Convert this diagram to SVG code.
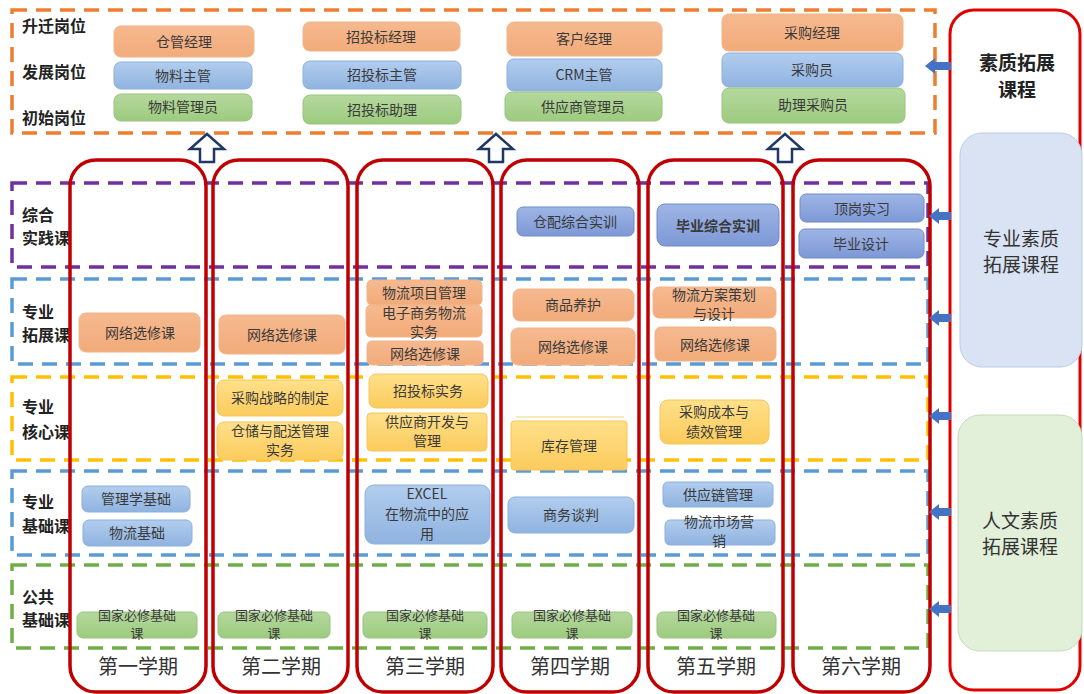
<svg xmlns="http://www.w3.org/2000/svg" width="1084" height="694" viewBox="0 0 1084 694">
<defs>
<linearGradient id="gOr" x1="0" y1="0" x2="0" y2="1"><stop offset="0" stop-color="#f6b98f"/><stop offset="1" stop-color="#f2ab7a"/></linearGradient>
<linearGradient id="gBl" x1="0" y1="0" x2="0" y2="1"><stop offset="0" stop-color="#b2cdee"/><stop offset="1" stop-color="#8fb3e0"/></linearGradient>
<linearGradient id="gGr" x1="0" y1="0" x2="0" y2="1"><stop offset="0" stop-color="#b5d89e"/><stop offset="1" stop-color="#9ccb7e"/></linearGradient>
<linearGradient id="gPu" x1="0" y1="0" x2="0" y2="1"><stop offset="0" stop-color="#9fb5e6"/><stop offset="1" stop-color="#7d98d6"/></linearGradient>
<linearGradient id="gYe" x1="0" y1="0" x2="0" y2="1"><stop offset="0" stop-color="#ffe08a"/><stop offset="1" stop-color="#fbcb5c"/></linearGradient>
</defs>
<style>
text{font-family:"Noto Sans CJK SC","Noto Sans",sans-serif;text-anchor:middle;fill:#3a3a3a;font-size:14px}
.lab{font-weight:bold;text-anchor:start;fill:#222;font-size:16px}
.sem{font-size:20px;fill:#333}
.ttl{font-size:19px;font-weight:bold;fill:#222}
.big{font-size:19px;fill:#333}
.sm{font-size:13px}
.bd{font-weight:bold}
.or{fill:url(#gOr);stroke:#f0b48a;stroke-width:1}
.bl{fill:url(#gBl);stroke:#8cb0dc;stroke-width:1}
.gr{fill:url(#gGr);stroke:#98c47d;stroke-width:1}
.pu{fill:url(#gPu);stroke:#6f8cc9;stroke-width:1}
.ye{fill:url(#gYe);stroke:#f5c65a;stroke-width:1}
.col{fill:none;stroke:#c00000;stroke-width:3.5}
.band{fill:none;stroke-width:3.5;stroke-dasharray:15 9}
.up{fill:#fff;stroke:#1f3864;stroke-width:2.5;stroke-linejoin:miter}
.la{fill:#4472c4}
</style>

<!-- bands -->
<g id="bands">
<rect x="12" y="10" width="923" height="123" class="band" stroke="#ed7d31"/>
<rect x="12" y="183" width="916" height="84" class="band" stroke="#7030a0"/>
<rect x="12" y="279" width="916" height="85" class="band" stroke="#5b9bd5"/>
<rect x="12" y="377" width="916" height="83" class="band" stroke="#ffc000"/>
<rect x="12" y="471" width="916" height="84" class="band" stroke="#5b9bd5"/>
<rect x="12" y="565" width="916" height="83" class="band" stroke="#70ad47"/>
</g>

<!-- row labels -->
<g id="labels">
<text class="lab" x="22" y="32">升迁岗位</text>
<text class="lab" x="22" y="78">发展岗位</text>
<text class="lab" x="22" y="124">初始岗位</text>
<text class="lab" x="22" y="221">综合</text>
<text class="lab" x="22" y="244">实践课</text>
<text class="lab" x="22" y="318">专业</text>
<text class="lab" x="22" y="341">拓展课</text>
<text class="lab" x="22" y="413">专业</text>
<text class="lab" x="22" y="438">核心课</text>
<text class="lab" x="22" y="508">专业</text>
<text class="lab" x="22" y="532">基础课</text>
<text class="lab" x="22" y="603">公共</text>
<text class="lab" x="22" y="626">基础课</text>
</g>

<!-- semester columns -->
<g id="semesters">
<rect x="70" y="160" width="136" height="532" rx="26" class="col"/>
<rect x="213" y="160" width="135" height="532" rx="26" class="col"/>
<rect x="357" y="160" width="136" height="532" rx="26" class="col"/>
<rect x="501" y="160" width="138" height="532" rx="26" class="col"/>
<rect x="648" y="160" width="135" height="532" rx="26" class="col"/>
<rect x="793" y="160" width="137" height="532" rx="26" class="col"/>
<text class="sem" x="138" y="674">第一学期</text>
<text class="sem" x="281" y="674">第二学期</text>
<text class="sem" x="425" y="674">第三学期</text>
<text class="sem" x="570" y="674">第四学期</text>
<text class="sem" x="716" y="674">第五学期</text>
<text class="sem" x="861" y="674">第六学期</text>
</g>

<!-- job boxes -->
<g id="jobs">
<rect x="114" y="26" width="140" height="31" rx="7" class="or"/><text x="184" y="47">仓管经理</text>
<rect x="114" y="62" width="138" height="27" rx="7" class="bl"/><text x="183" y="81">物料主管</text>
<rect x="114" y="94" width="138" height="27" rx="7" class="gr"/><text x="183" y="112">物料管理员</text>
<rect x="303" y="22" width="157" height="29" rx="7" class="or"/><text x="381" y="42">招投标经理</text>
<rect x="303" y="61" width="158" height="28" rx="7" class="bl"/><text x="382" y="80">招投标主管</text>
<rect x="303" y="95" width="158" height="29" rx="7" class="gr"/><text x="382" y="115">招投标助理</text>
<rect x="507" y="22" width="155" height="34" rx="7" class="or"/><text x="584" y="44">客户经理</text>
<rect x="507" y="59" width="155" height="32" rx="7" class="bl"/><text x="584" y="80">CRM主管</text>
<rect x="505" y="92" width="157" height="29" rx="7" class="gr"/><text x="583" y="112">供应商管理员</text>
<rect x="722" y="14" width="181" height="37" rx="7" class="or"/><text x="812" y="38">采购经理</text>
<rect x="722" y="53" width="181" height="34" rx="7" class="bl"/><text x="812" y="75">采购员</text>
<rect x="722" y="88" width="183" height="35" rx="7" class="gr"/><text x="813" y="110">助理采购员</text>
</g>

<!-- courses -->
<g id="practice">
<rect x="517" y="207" width="117" height="29" rx="6" class="pu"/><text x="575" y="227">仓配综合实训</text>
<rect x="657" y="204" width="122" height="42" rx="8" class="pu"/><text class="bd" x="718" y="231">毕业综合实训</text>
<rect x="800" y="194" width="124" height="28" rx="6" class="pu"/><text x="862" y="214">顶岗实习</text>
<rect x="799" y="229" width="125" height="29" rx="6" class="pu"/><text x="861" y="249">毕业设计</text>
</g>
<g id="expand">
<rect x="79" y="313" width="121" height="39" rx="7" class="or"/><text x="140" y="338">网络选修课</text>
<rect x="219" y="315" width="126" height="39" rx="7" class="or"/><text x="282" y="340">网络选修课</text>
<rect x="367" y="280" width="115" height="25" rx="5" class="or"/><text x="424" y="298">物流项目管理</text>
<rect x="366" y="305" width="116" height="32" rx="5" class="or"/><text x="424" y="318">电子商务物流</text><text x="424" y="337">实务</text>
<rect x="367" y="341" width="116" height="24" rx="5" class="or"/><text x="425" y="359">网络选修课</text>
<rect x="513" y="289" width="121" height="32" rx="7" class="or"/><text x="573" y="310">商品养护</text>
<rect x="511" y="328" width="124" height="37" rx="7" class="or"/><text x="573" y="352">网络选修课</text>
<rect x="653" y="287" width="123" height="31" rx="6" class="or"/><text x="714" y="300">物流方案策划</text><text x="714" y="319">与设计</text>
<rect x="655" y="327" width="121" height="34" rx="6" class="or"/><text x="715" y="350">网络选修课</text>
</g>
<g id="core">
<rect x="217" y="380" width="126" height="36" rx="7" class="ye"/><text x="280" y="403">采购战略的制定</text>
<rect x="217" y="422" width="126" height="38" rx="7" class="ye"/><text x="280" y="436">仓储与配送管理</text><text x="280" y="455">实务</text>
<rect x="369" y="374" width="119" height="34" rx="7" class="ye"/><text x="428" y="396">招投标实务</text>
<rect x="367" y="413" width="120" height="38" rx="4" class="ye"/><text x="427" y="427">供应商开发与</text><text x="427" y="446">管理</text>
<line x1="516" y1="417" x2="624" y2="417" stroke="#f5d27a" stroke-width="1"/>
<rect x="511" y="421" width="116" height="49" rx="3" class="ye"/><text x="569" y="451">库存管理</text>
<rect x="660" y="400" width="109" height="44" rx="8" class="ye"/><text x="714" y="417">采购成本与</text><text x="714" y="437">绩效管理</text>
</g>
<g id="basic">
<rect x="82" y="486" width="108" height="26" rx="6" class="bl"/><text x="136" y="504">管理学基础</text>
<rect x="83" y="520" width="109" height="26" rx="6" class="bl"/><text x="137" y="538">物流基础</text>
<rect x="365" y="485" width="125" height="59" rx="9" class="bl"/><text x="427" y="499">EXCEL</text><text x="427" y="519">在物流中的应</text><text x="427" y="539">用</text>
<rect x="508" y="497" width="126" height="36" rx="7" class="bl"/><text x="571" y="520">商务谈判</text>
<rect x="663" y="482" width="110" height="25" rx="5" class="bl"/><text x="718" y="500">供应链管理</text>
<rect x="665" y="520" width="110" height="25" rx="5" class="bl"/><text x="719" y="527">物流市场营</text><text x="719" y="546">销</text>
</g>
<g id="public">
<rect x="77" y="612" width="120" height="26" rx="6" class="gr"/><text class="sm" x="137" y="620">国家必修基础</text><text class="sm" x="137" y="638">课</text>
<rect x="218" y="612" width="112" height="26" rx="6" class="gr"/><text class="sm" x="274" y="620">国家必修基础</text><text class="sm" x="274" y="638">课</text>
<rect x="363" y="612" width="124" height="26" rx="6" class="gr"/><text class="sm" x="425" y="620">国家必修基础</text><text class="sm" x="425" y="638">课</text>
<rect x="512" y="612" width="120" height="26" rx="6" class="gr"/><text class="sm" x="572" y="620">国家必修基础</text><text class="sm" x="572" y="638">课</text>
<rect x="657" y="612" width="119" height="26" rx="6" class="gr"/><text class="sm" x="716" y="620">国家必修基础</text><text class="sm" x="716" y="638">课</text>
</g>

<!-- right panel -->
<g id="quality">
<rect x="950" y="10" width="130" height="680" rx="24" fill="#fff" stroke="#e00000" stroke-width="3"/>
<text class="ttl" x="1017" y="70">素质拓展</text>
<text class="ttl" x="1017" y="97">课程</text>
</g>
<g id="prof">
<rect x="960" y="133" width="122" height="234" rx="22" fill="#dae3f3" stroke="#b9cbe6" stroke-width="1"/>
<text class="big" x="1021" y="246">专业素质</text>
<text class="big" x="1021" y="272">拓展课程</text>
</g>
<g id="human">
<rect x="958" y="415" width="124" height="236" rx="22" fill="#e2efd9" stroke="#c5dcb5" stroke-width="1"/>
<text class="big" x="1020" y="528">人文素质</text>
<text class="big" x="1020" y="554">拓展课程</text>
</g>

<!-- connectors -->
<g id="connectors">
<path class="up" d="M207 134 L224 149 L214 149 L214 162 L200 162 L200 149 L190 149 Z"/>
<path class="up" d="M496 134 L513 149 L503 149 L503 162 L489 162 L489 149 L479 149 Z"/>
<path class="up" d="M785 134 L802 149 L792 149 L792 162 L778 162 L778 149 L768 149 Z"/>
<path class="la" d="M925 66 L935 58 L935 62 L951 62 L951 70 L935 70 L935 74 Z"/>
<path class="la" d="M929 216 L939 208 L939 212 L951 212 L951 220 L939 220 L939 224 Z"/>
<path class="la" d="M929 318 L939 310 L939 314 L951 314 L951 322 L939 322 L939 326 Z"/>
<path class="la" d="M929 416 L939 408 L939 412 L951 412 L951 420 L939 420 L939 424 Z"/>
<path class="la" d="M929 512 L939 504 L939 508 L951 508 L951 516 L939 516 L939 520 Z"/>
<path class="la" d="M929 609 L939 601 L939 605 L951 605 L951 613 L939 613 L939 617 Z"/>
</g>
</svg>
